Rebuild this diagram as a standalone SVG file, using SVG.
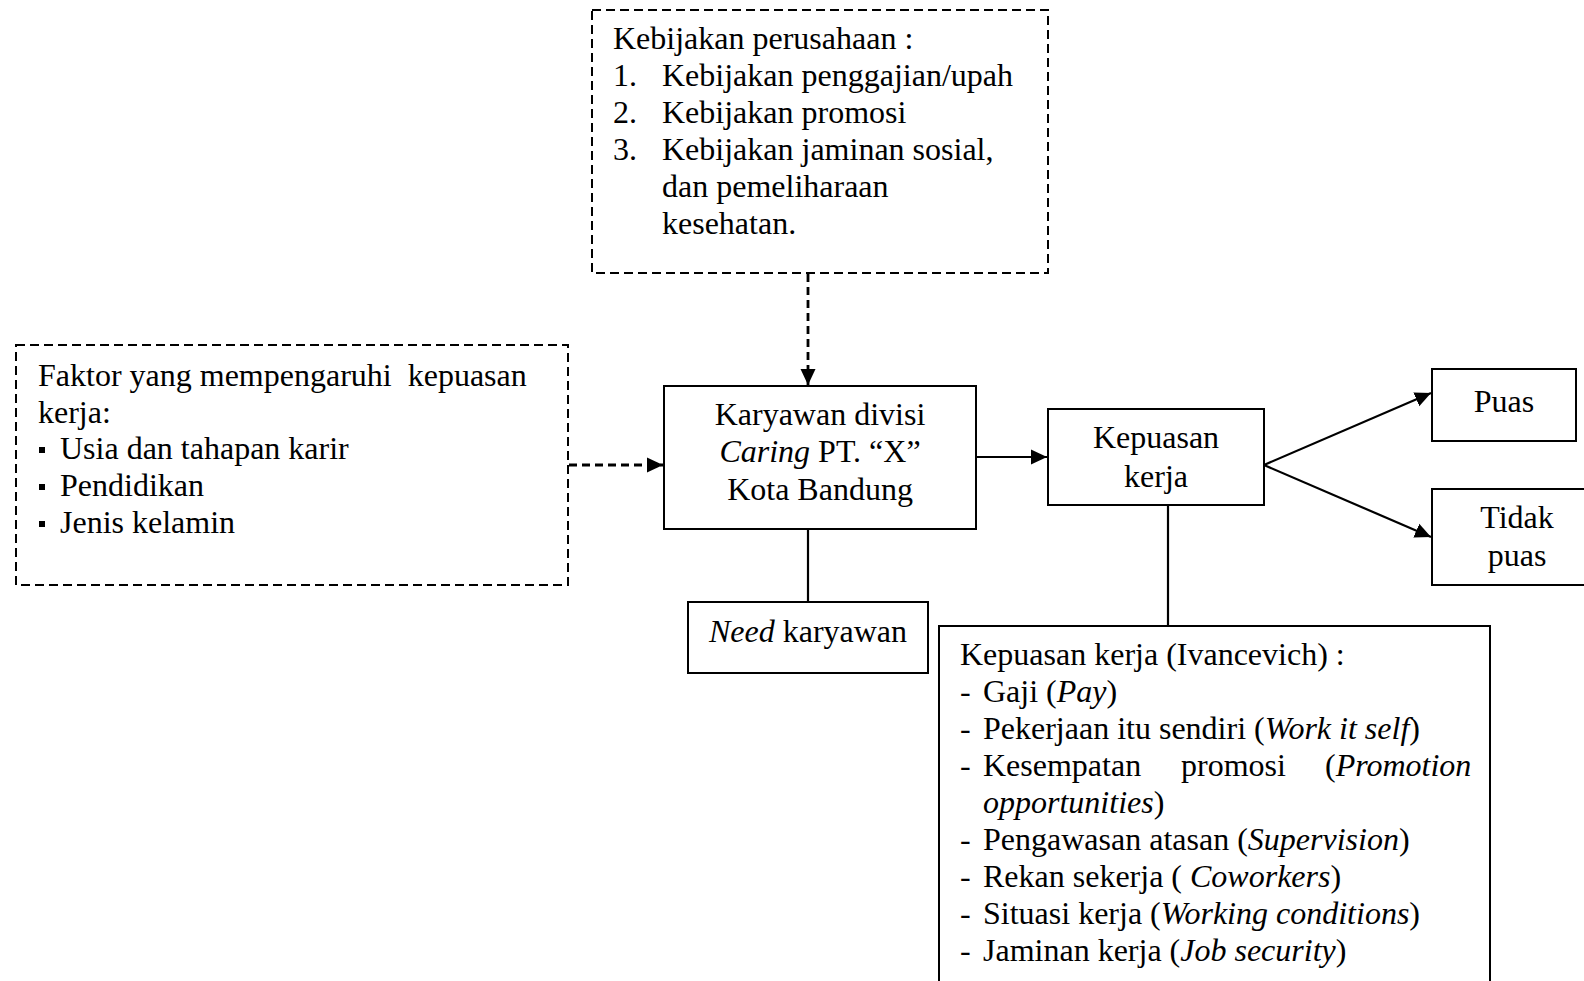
<svg xmlns="http://www.w3.org/2000/svg" width="1584" height="981" viewBox="0 0 1584 981">
<style>
text{font-family:"Liberation Serif","Times New Roman",serif;font-size:32px;fill:#000}
.c{text-anchor:middle}
.i{font-style:italic}
.box{fill:#fff;stroke:#000;stroke-width:2}
.dbox{fill:#fff;stroke:#000;stroke-width:2;stroke-dasharray:9 5}
.ln{fill:none;stroke:#000;stroke-width:2.2}
.dl{fill:none;stroke:#000;stroke-width:2.8;stroke-dasharray:8 5}
</style>
<defs>
<marker id="ah" markerUnits="userSpaceOnUse" markerWidth="17" markerHeight="16" refX="16" refY="8" orient="auto">
<path d="M0,0.5 L16,8 L0,15.5 Z" fill="#000"/>
</marker>
</defs>
<rect width="1584" height="981" fill="#fff"/>
<g id="connectors">
<line class="dl" x1="808" y1="274" x2="808" y2="385" marker-end="url(#ah)"/>
<line class="dl" x1="569" y1="465" x2="663" y2="465" marker-end="url(#ah)"/>
<line class="ln" x1="976" y1="457" x2="1047" y2="457" marker-end="url(#ah)"/>
<line class="ln" x1="1264" y1="465" x2="1431" y2="393" marker-end="url(#ah)"/>
<line class="ln" x1="1264" y1="465" x2="1431" y2="537" marker-end="url(#ah)"/>
<line class="ln" x1="808" y1="529" x2="808" y2="602"/>
<line class="ln" x1="1168" y1="506" x2="1168" y2="625"/>
</g>
<g id="kebijakan">
<rect class="dbox" x="592" y="10" width="456" height="263"/>
<text x="613" y="49">Kebijakan perusahaan :</text>
<text x="613" y="86">1.</text><text x="662" y="86">Kebijakan penggajian/upah</text>
<text x="613" y="123">2.</text><text x="662" y="123">Kebijakan promosi</text>
<text x="613" y="160">3.</text><text x="662" y="160">Kebijakan jaminan sosial,</text>
<text x="662" y="197">dan pemeliharaan</text>
<text x="662" y="234">kesehatan.</text>
</g>
<g id="faktor">
<rect class="dbox" x="16" y="345" width="552" height="240"/>
<text x="38" y="386">Faktor yang mempengaruhi &#160;kepuasan</text>
<text x="38" y="423">kerja:</text>
<rect x="39" y="447" width="6" height="6" fill="#000"/>
<text x="60" y="459">Usia dan tahapan karir</text>
<rect x="39" y="484" width="6" height="6" fill="#000"/>
<text x="60" y="496">Pendidikan</text>
<rect x="39" y="521" width="6" height="6" fill="#000"/>
<text x="60" y="533">Jenis kelamin</text>
</g>
<g id="karyawan">
<rect class="box" x="664" y="386" width="312" height="143"/>
<text class="c" x="820" y="425">Karyawan divisi</text>
<text class="c" x="820" y="462"><tspan class="i">Caring</tspan> PT. “X”</text>
<text class="c" x="820" y="500">Kota Bandung</text>
</g>
<g id="kepuasan">
<rect class="box" x="1048" y="409" width="216" height="96"/>
<text class="c" x="1156" y="448">Kepuasan</text>
<text class="c" x="1156" y="487">kerja</text>
</g>
<g id="puas">
<rect class="box" x="1432" y="369" width="144" height="72"/>
<text class="c" x="1504" y="412">Puas</text>
</g>
<g id="tidakpuas">
<rect class="box" x="1432" y="489" width="170" height="96"/>
<text class="c" x="1517" y="528">Tidak</text>
<text class="c" x="1517" y="566">puas</text>
</g>
<g id="need">
<rect class="box" x="688" y="602" width="240" height="71"/>
<text class="c" x="808" y="642"><tspan class="i">Need</tspan> karyawan</text>
</g>
<g id="ivancevich">
<rect class="box" x="939" y="626" width="551" height="370"/>
<text x="960" y="665">Kepuasan kerja (Ivancevich) :</text>
<text x="960" y="702">-</text><text x="983" y="702">Gaji (<tspan class="i">Pay</tspan>)</text>
<text x="960" y="739">-</text><text x="983" y="739">Pekerjaan itu sendiri (<tspan class="i">Work it self</tspan>)</text>
<text x="960" y="776">-</text><text x="983" y="776">Kesempatan</text><text x="1181" y="776">promosi</text><text x="1325" y="776">(<tspan class="i">Promotion</tspan></text>
<text x="983" y="813"><tspan class="i">opportunities</tspan>)</text>
<text x="960" y="850">-</text><text x="983" y="850">Pengawasan atasan (<tspan class="i">Supervision</tspan>)</text>
<text x="960" y="887">-</text><text x="983" y="887">Rekan sekerja ( <tspan class="i">Coworkers</tspan>)</text>
<text x="960" y="924">-</text><text x="983" y="924">Situasi kerja (<tspan class="i">Working conditions</tspan>)</text>
<text x="960" y="961">-</text><text x="983" y="961">Jaminan kerja (<tspan class="i">Job security</tspan>)</text>
</g>
</svg>
